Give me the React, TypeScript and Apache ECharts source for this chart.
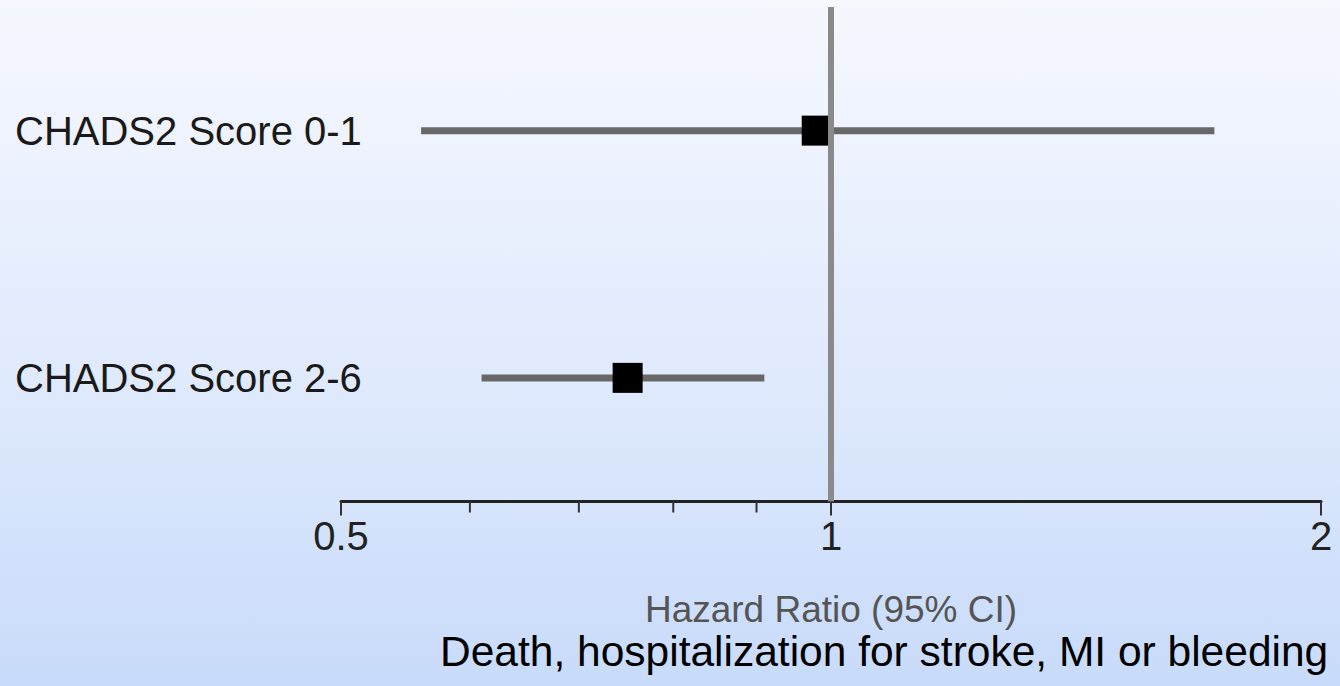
import React, { useEffect, useRef } from "react";
import * as echarts from "echarts";

const categories = ["CHADS2 Score 0-1", "CHADS2 Score 2-6"];
const hazardRatios = [0.98, 0.75];
const lowerCI = [0.56, 0.61];
const upperCI = [1.72, 0.91];
const minorTickValues = [0.6, 0.7, 0.8, 0.9];
const referenceValue = 1;
const axisTitle = "Hazard Ratio (95% CI)";
const caption = "Death, hospitalization for stroke, MI or bleeding";

const FONT = "Liberation Sans, Arial, sans-serif";

export default function App() {
  const ref = useRef<HTMLDivElement>(null);

  useEffect(() => {
    if (!ref.current) return;
    const chart = echarts.init(ref.current, null, { renderer: "svg" });

    const forestData = categories.map((c, i) => [i, hazardRatios[i], lowerCI[i], upperCI[i]]);

    chart.setOption({
      animation: false,
      backgroundColor: new echarts.graphic.LinearGradient(0, 0, 0, 1, [
        { offset: 0, color: "#f6f8fe" },
        { offset: 0.55, color: "#e0eafd" },
        { offset: 1, color: "#c8dbfa" },
      ]),
      textStyle: { fontFamily: FONT },
      title: {
        text: caption,
        left: 440,
        top: 630,
        padding: 0,
        textStyle: {
          fontSize: 42.5,
          fontWeight: "normal",
          color: "#000",
          fontFamily: FONT,
        },
      },
      grid: { left: 341, right: 19, top: 7, bottom: 184.5, containLabel: false },
      xAxis: {
        type: "log",
        logBase: 2,
        min: 0.5,
        max: 2,
        name: axisTitle,
        nameLocation: "middle",
        nameGap: 89,
        nameTextStyle: { fontSize: 37, lineHeight: 37, color: "#555", fontFamily: FONT },
        axisLine: { show: true, onZero: false, lineStyle: { color: "#222", width: 3 } },
        axisTick: { show: true, length: 14, lineStyle: { color: "#333", width: 2 } },
        axisLabel: {
          fontSize: 40,
          color: "#222",
          margin: 14,
          fontFamily: FONT,
          showMinLabel: true,
          showMaxLabel: true,
          formatter: (v: number) => String(Math.round(v * 100) / 100),
        },
        splitLine: { show: false },
      },
      yAxis: {
        type: "category",
        inverse: true,
        data: categories,
        axisLine: { show: false },
        axisTick: { show: false },
        splitLine: { show: false },
        axisLabel: {
          align: "left",
          margin: 326,
          fontSize: 40,
          color: "#1a1a1a",
          fontFamily: FONT,
          padding: [0, 0, 6, 0],
        },
      },
      series: [
        {
          type: "line",
          data: [],
          z: 1,
          markLine: {
            silent: true,
            symbol: "none",
            label: { show: false },
            lineStyle: { color: "#8a8a8a", width: 6, type: "solid" },
            data: [{ xAxis: referenceValue }],
          },
        },
        {
          type: "custom",
          z: 2,
          silent: true,
          data: minorTickValues.map((v) => [v, 0]),
          encode: { x: 0, y: 1 },
          renderItem: (params: any, api: any) => {
            const p = api.coord([api.value(0), 0]);
            const cs = params.coordSys;
            const y0 = cs.y + cs.height;
            return {
              type: "line",
              shape: { x1: p[0], y1: y0, x2: p[0], y2: y0 + 11 },
              style: { stroke: "#333", lineWidth: 2 },
            };
          },
        },
        {
          type: "custom",
          z: 3,
          silent: true,
          data: forestData,
          encode: { y: 0, x: [1, 2, 3] },
          renderItem: (params: any, api: any) => {
            const idx = api.value(0);
            const pt = api.coord([api.value(1), idx]);
            const lo = api.coord([api.value(2), idx]);
            const hi = api.coord([api.value(3), idx]);
            const s = 30;
            return {
              type: "group",
              children: [
                {
                  type: "line",
                  shape: { x1: lo[0], y1: pt[1], x2: hi[0], y2: pt[1] },
                  style: { stroke: "#686868", lineWidth: 7 },
                },
                {
                  type: "rect",
                  shape: { x: pt[0] - s / 2, y: pt[1] - s / 2, width: s, height: s },
                  style: { fill: "#000" },
                },
              ],
            };
          },
        },
      ],
    });

    return () => chart.dispose();
  }, []);

  return (
    <div
      ref={ref}
      style={{ position: "fixed", left: 0, top: 0, width: 1340, height: 686 }}
    />
  );
}
